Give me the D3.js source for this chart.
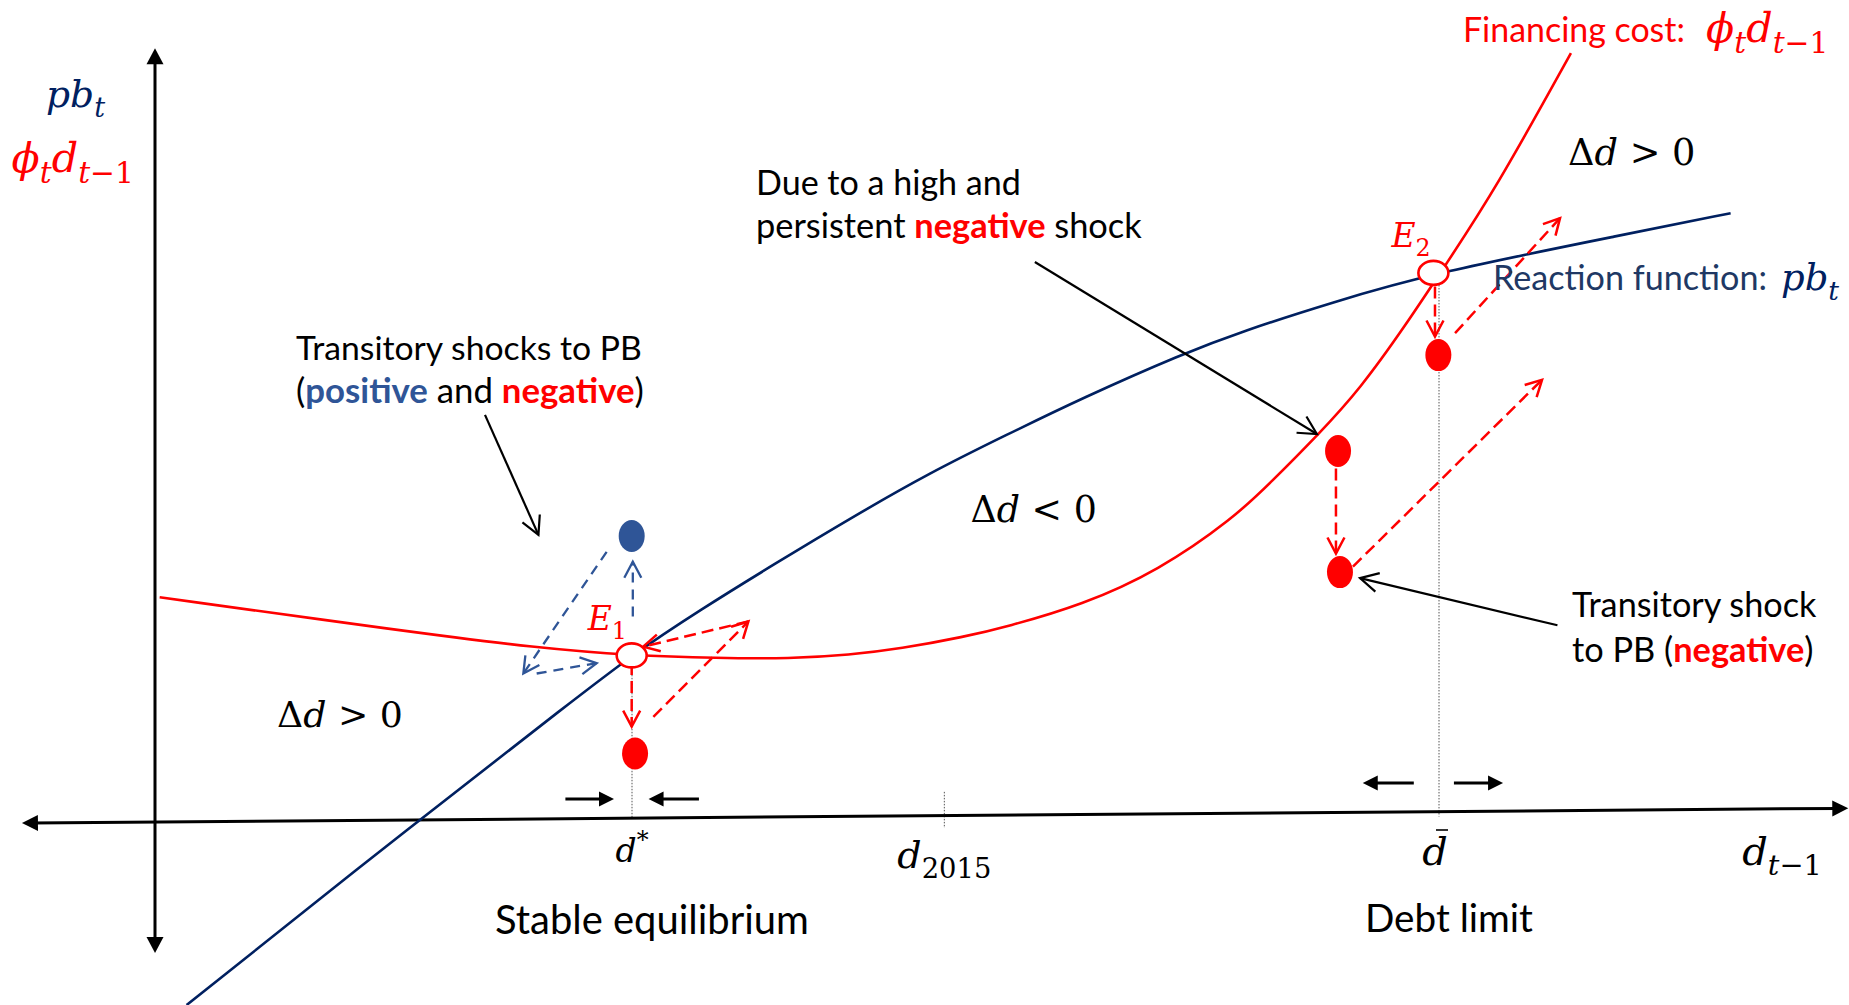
<!DOCTYPE html>
<html><head><meta charset="utf-8">
<script src="https://cdn.jsdelivr.net/npm/d3@7"></script>
<style>
html,body{margin:0;padding:0;background:#fff;overflow:hidden}
svg{display:block}
.txt{font-family:Lato,"Open Sans",sans-serif}
.math{font-family:"DejaVu Serif",serif}
</style></head><body>
<svg id="chart" width="1849" height="1005"></svg>
<script>
// ---------------- data (conceptual units: d = debt, pb = primary balance) ----------------
const reactionD  = [1.97, 16.45, 26.11, 29.69, 33.96, 38.72, 43.49, 48.26, 53.02, 57.80, 63.99, 67.79, 73.21, 79.63, 91.90, 98.17];
const reactionPB = [-3.34, 0.04, 2.23, 3.04, 3.87, 4.73, 5.57, 6.37, 7.06, 7.74, 8.54, 8.96, 9.47, 10.02, 10.74, 11.11];
const costD  = [0.29, 15.38, 23.96, 29.69, 35.05, 39.56, 43.30, 46.42, 50.45, 53.02, 57.76, 62.49, 67.23, 69.53, 72.51, 75.08, 77.98, 80.37, 83.49, 88.22];
const costPB = [4.10, 3.49, 3.17, 3.04, 2.99, 2.98, 3.05, 3.16, 3.38, 3.56, 3.96, 4.58, 5.55, 6.20, 7.08, 7.90, 9.09, 10.15, 11.53, 14.03];

const eqNames = ["1", "2"];
const eqD  = [29.70, 79.65];
const eqPB = [3.04, 10.02];

const tickD      = [29.72, 49.18, 80.0];
const tickNames  = ["dstar", "d2015", "dbar"];
const guideTopPB = [2.85, 0.55, 9.80];
const guideBotPB = [0.08, -0.11, 0.10];

const dotD    = [29.70, 29.91, 79.96, 73.71, 73.83];
const dotPB   = [5.22, 1.25, 8.52, 6.77, 4.56];
const dotSign = ["positive", "negative", "negative", "negative", "negative"];

// dashed shock paths: [d0, pb0, d1, pb1]
const shockPaths = [
  [29.77, 3.75, 29.77, 4.75], [28.14, 4.93, 22.95, 2.71], [23.78, 2.71, 27.52, 2.90],
  [29.70, 2.90, 29.70, 1.74], [31.05, 1.92, 36.97, 3.66], [36.97, 3.66, 30.42, 3.20],
  [79.75, 9.77, 79.75, 8.86], [81.00, 8.92, 87.54, 11.02],
  [73.58, 6.45, 73.58, 4.90], [74.64, 4.66, 86.42, 8.07]
];
const shockSign = ["positive","positive","positive","negative","negative","negative","negative","negative","negative","negative"];

// annotation pointers: [d0, pb0, d1, pb1]
const pointers = [[20.56, 7.43, 23.89, 5.24], [54.82, 10.22, 72.39, 7.08], [87.38, 3.59, 75.08, 4.45]];
// debt dynamics arrows on the axis
const moves = [[25.57, 0.42, 28.60, 0.42], [33.89, 0.42, 30.75, 0.42], [78.43, 0.71, 75.25, 0.71], [80.93, 0.71, 83.99, 0.71]];

const yAxisExtent = [-2.39, 14.12];
const xAxisExtent = [-8.29, 105.5];
const xAxisLevel  = [-0.02, 0.25];

// ---------------- drawing ----------------
const RED = "#FF0000", NAVY = "#002060", BLUE = "#2F5597", NAVYTXT = "#203864";
const svg = d3.select("#chart");
const x = d3.scaleLinear().domain([0, 80]).range([155, 1439]);
const y = d3.scaleLinear().domain([0, 10]).range([822, 274]);

const gGuide = svg.append("g"), gAxes = svg.append("g"), gCurve = svg.append("g"),
      gArr = svg.append("g"), gMark = svg.append("g"), gText = svg.append("g");

function headPts(x1, y1, x2, y2, len, half) {
  const L = Math.hypot(x2 - x1, y2 - y1), ux = (x2 - x1) / L, uy = (y2 - y1) / L;
  const bx = x2 - ux * len, by = y2 - uy * len;
  return [[bx - uy * half, by + ux * half], [x2, y2], [bx + uy * half, by - ux * half]];
}
function filledArrow(g, p0, p1, o) {
  const [x1, y1] = p0, [x2, y2] = p1;
  const L = Math.hypot(x2 - x1, y2 - y1), ux = (x2 - x1) / L, uy = (y2 - y1) / L;
  const s0 = o.both ? o.len * 0.6 : 0, s1 = o.len * 0.6;
  g.append("line").attr("x1", x1 + ux * s0).attr("y1", y1 + uy * s0)
    .attr("x2", x2 - ux * s1).attr("y2", y2 - uy * s1)
    .attr("stroke", o.color).attr("stroke-width", o.w);
  const tri = (a, b) => g.append("path").attr("d", "M" + headPts(a[0], a[1], b[0], b[1], o.len, o.half).join("L") + "Z").attr("fill", o.color);
  tri(p0, p1);
  if (o.both) tri(p1, p0);
}
function openArrow(g, p0, p1, o) {
  g.append("line").attr("x1", p0[0]).attr("y1", p0[1]).attr("x2", p1[0]).attr("y2", p1[1])
    .attr("stroke", o.color).attr("stroke-width", o.w).attr("stroke-dasharray", o.dash || null);
  g.append("path").attr("d", "M" + headPts(p0[0], p0[1], p1[0], p1[1], o.len, o.half).join("L"))
    .attr("fill", "none").attr("stroke", o.color).attr("stroke-width", o.w).attr("stroke-linejoin", "miter");
}

// guides (dotted verticals)
tickD.forEach((d, i) => {
  gGuide.append("line").attr("x1", x(d)).attr("x2", x(d))
    .attr("y1", y(guideTopPB[i])).attr("y2", y(guideBotPB[i]))
    .attr("stroke", "#555").attr("stroke-width", 1).attr("stroke-dasharray", "1.5,1.5");
});

// axes
filledArrow(gAxes, [x(0), y(yAxisExtent[0])], [x(0), y(yAxisExtent[1])], {color: "#000", w: 3, len: 16, half: 8.5, both: true});
filledArrow(gAxes, [x(xAxisExtent[0]), y(xAxisLevel[0])], [x(xAxisExtent[1]), y(xAxisLevel[1])], {color: "#000", w: 3, len: 16, half: 8, both: true});

// curves
const line = d3.line().x(d => x(d[0])).y(d => y(d[1])).curve(d3.curveBasis);
gCurve.append("path").attr("d", line(reactionD.map((d, i) => [d, reactionPB[i]])))
  .attr("fill", "none").attr("stroke", NAVY).attr("stroke-width", 2.6);
gCurve.append("path").attr("d", line(costD.map((d, i) => [d, costPB[i]])))
  .attr("fill", "none").attr("stroke", RED).attr("stroke-width", 2.6);

// dashed shock arrows
shockPaths.forEach((p, i) => {
  const pos = shockSign[i] === "positive";
  openArrow(gArr, [x(p[0]), y(p[1])], [x(p[2]), y(p[3])],
    {color: pos ? BLUE : RED, w: pos ? 2.3 : 2.5, dash: pos ? "10,7" : "12,6", len: 16, half: 8.5});
});
// pointer arrows
pointers.forEach(p => openArrow(gArr, [x(p[0]), y(p[1])], [x(p[2]), y(p[3])], {color: "#000", w: 2.2, len: 18, half: 9.5}));
// movement arrows
moves.forEach(p => filledArrow(gArr, [x(p[0]), y(p[1])], [x(p[2]), y(p[3])], {color: "#000", w: 3, len: 15, half: 7.5}));

// shock dots
dotD.forEach((d, i) => {
  gMark.append("ellipse").attr("cx", x(d)).attr("cy", y(dotPB[i])).attr("rx", 13).attr("ry", 16)
    .attr("fill", dotSign[i] === "positive" ? BLUE : RED);
});
// equilibria
eqD.forEach((d, i) => {
  gMark.append("ellipse").attr("cx", x(d)).attr("cy", y(eqPB[i])).attr("rx", 15).attr("ry", 12)
    .attr("fill", "#fff").attr("stroke", RED).attr("stroke-width", 2.6);
});

// ---------------- text ----------------
function rich(g, x0, y0, size, cls, fill, parts, targetW, anchor) {
  const t = g.append("text").attr("x", x0).attr("y", y0).attr("font-size", size)
    .attr("class", cls).attr("fill", fill).attr("text-anchor", anchor || "start")
    .style("white-space", "pre");
  let cur = 0;
  parts.forEach(([s, f = ""]) => {
    const tk = f.split(" ");
    const sub = tk.includes("sub"), sup = tk.includes("sup");
    const sc = (sub || sup) ? 0.72 : 1;
    const off = sub ? 0.26 : sup ? -0.42 : 0;
    const ts = t.append("tspan").text(s);
    if (off !== cur) ts.attr("dy", ((off - cur) / sc) + "em");
    cur = off;
    if (sc !== 1) ts.attr("font-size", sc + "em");
    if (tk.includes("it")) ts.attr("font-style", "italic");
    if (tk.includes("b")) ts.attr("font-weight", "bold");
    if (tk.includes("red")) ts.attr("fill", RED);
    if (tk.includes("blue")) ts.attr("fill", BLUE);
  });
  if (targetW) {
    const n = t.node().getComputedTextLength();
    if (n > 0) t.attr("font-size", size * targetW / n);
  }
  return t;
}
const pbParts  = [["p", "it"], ["b", "it"], ["t", "it sub"]];
const phiParts = [["\u03D5", "it"], ["t", "it sub"], ["d", "it"], ["t", "it sub"], ["\u22121", "sub"]];

rich(gText, 46, 107, 34, "math", NAVY, pbParts, 59);
rich(gText, 11.5, 172, 34, "math", RED, phiParts, 122.5);
rich(gText, 1463, 42, 34, "txt", RED, [["Financing cost:"]], 222);
rich(gText, 1706, 42, 34, "math", RED, phiParts, 122.5);
rich(gText, 1568, 165, 36, "math", "#000", [["\u0394"], ["d", "it"], [" > 0"]], 127.5);
rich(gText, 1493, 290, 34, "txt", NAVYTXT, [["Reaction function:"]], 274);
rich(gText, 1781, 290, 34, "math", NAVY, pbParts, 58);
rich(gText, x(eqD[1]) - 42, 247, 33, "math", RED, [["E", "it"], [eqNames[1], "sub"]]);
rich(gText, x(eqD[0]) - 44, 630, 33, "math", RED, [["E", "it"], [eqNames[0], "sub"]]);

rich(gText, 756, 195, 34, "txt", "#000", [["Due to a high and"]], 265);
rich(gText, 756, 238, 34, "txt", "#000", [["persistent "], ["negative", "b red"], [" shock"]], 386);
rich(gText, 296, 360, 34, "txt", "#000", [["Transitory shocks to PB"]], 346);
rich(gText, 296, 403, 34, "txt", "#000", [["("], ["positive", "b blue"], [" and "], ["negative", "b red"], [")"]], 348);
rich(gText, 970.5, 522, 36, "math", "#000", [["\u0394"], ["d", "it"], [" < 0"]], 126.3);
rich(gText, 277, 727, 36, "math", "#000", [["\u0394"], ["d", "it"], [" > 0"]], 126);
rich(gText, 1572, 617, 34, "txt", "#000", [["Transitory shock"]], 244.5);
rich(gText, 1572, 662, 34, "txt", "#000", [["to PB ("], ["negative", "b red"], [")"]], 241.5);

// axis tick labels
const tickParts = {
  dstar: [["d", "it"], ["*", "sup"]],
  d2015: [["d", "it"], ["2015", "sub"]],
  dbar:  [["d", "it"]]
};
const tickW = {dstar: 33, d2015: 94, dbar: 25.5};
const tickBase = {dstar: 862, d2015: 868, dbar: 865};
tickNames.forEach((nm, i) => {
  rich(gText, x(tickD[i]) + (nm === "dbar" ? -4 : 0), tickBase[nm], 37, "math", "#000", tickParts[nm], tickW[nm], "middle");
});
gText.append("line").attr("x1", x(tickD[2]) - 3).attr("x2", x(tickD[2]) + 9)
  .attr("y1", 830).attr("y2", 830).attr("stroke", "#000").attr("stroke-width", 1.6);
rich(gText, 1782, 865, 37, "math", "#000", [["d", "it"], ["t", "it sub"], ["\u22121", "sub"]], 79.6, "middle");

rich(gText, 495, 934, 39, "txt", "#000", [["Stable equilibrium"]], 314);
rich(gText, 1365, 932, 39, "txt", "#000", [["Debt limit"]], 168);
</script>
</body></html>
